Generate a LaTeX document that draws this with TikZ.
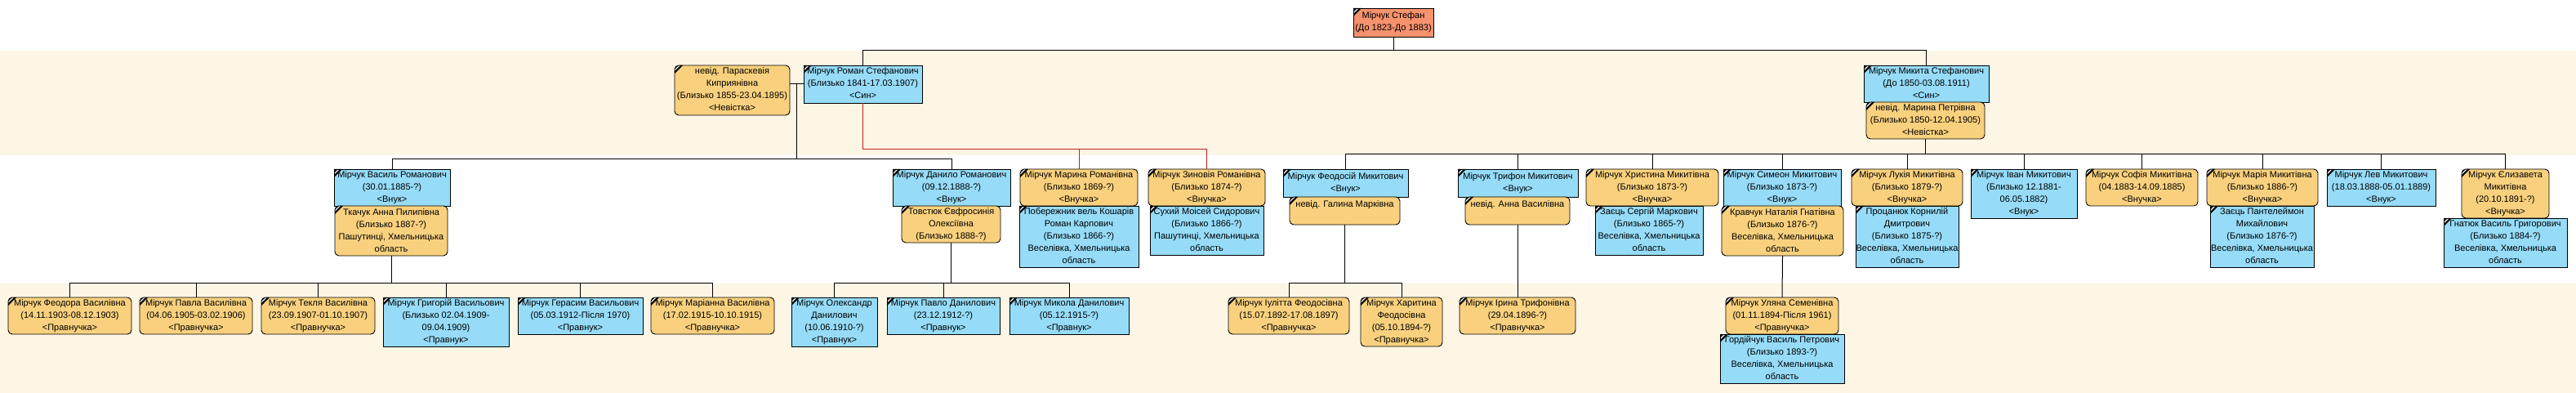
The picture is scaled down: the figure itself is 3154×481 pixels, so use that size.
\documentclass[tikz,border=0pt]{standalone}
\usepackage{fontspec}
\setmainfont{Liberation Sans}
\usetikzlibrary{calc}
\definecolor{pblue}{RGB}{150,220,248}
\definecolor{porange}{RGB}{249,209,126}
\definecolor{psalmon}{RGB}{246,146,110}
\definecolor{bandc}{RGB}{253,246,229}
\definecolor{redl}{RGB}{192,32,32}
\tikzset{
  rectshape/.style={rounded corners=0pt},
  roundshape/.style={rounded corners=5pt},
  conn/.style={line width=1pt, black},
  redconn/.style={line width=1pt, redl},
  ptext/.style={inner sep=0pt, align=center, font=\fontsize{11}{15}\selectfont, text=black},
}
\newcommand\NL{\\\strut}
\newcommand\person[8]{%
  \fill[#2,#3] (#4,#5) rectangle (#6,#7);
  \node[ptext, minimum width={(#6-#4)*1pt}, minimum height={(#7-#5)*1pt}] (#1) at ({(#4+#6)/2},{(#5+#7)/2}) {\strut #8};
  \begin{scope}
    \clip[#3] (#4,#5) rectangle (#6,#7);
    \fill[black] (#4,#5) -- ++(10,0) -- ++(-10,10) -- cycle;
    \draw[white, line width=1.2pt] ($(#4,#5)+(0,6)$) -- ++(6,-6);
  \end{scope}
  \draw[line width=0.9pt, black, #3] (#4,#5) rectangle (#6,#7);
}
\begin{document}
\begin{tikzpicture}[x=1pt,y=-1pt]
\useasboundingbox (0,0) rectangle (3154,481);
\fill[bandc] (0,62) rectangle (3154,190);
\fill[bandc] (0,347) rectangle (3154,481);
\coordinate (y62) at (0,62);
\coordinate (y183) at (0,183);
\coordinate (y189) at (0,189);
\coordinate (y195) at (0,195);
\coordinate (y346) at (0,346);

% row 0 and 1
\person{stefan}{psalmon}{rectshape}{1657}{10}{1755}{45}{Мірчук Стефан\NL(До 1823-До 1883)}
\person{paraskeva}{porange}{roundshape}{826}{80}{967}{141}{невід. Параскевія\NL Киприянівна\NL(Близько 1855-23.04.1895)\NL<Невістка>}
\person{roman}{pblue}{rectshape}{984}{80}{1129}{126}{Мірчук Роман Стефанович\NL(Близько 1841-17.03.1907)\NL<Син>}
\person{mykyta}{pblue}{rectshape}{2282}{80}{2435}{125}{Мірчук Микита Стефанович\NL(До 1850-03.08.1911)\NL<Син>}
\person{marynap}{porange}{roundshape}{2285}{125}{2430}{170}{невід. Марина Петрівна\NL(Близько 1850-12.04.1905)\NL<Невістка>}

% row 2
\person{vasyl}{pblue}{rectshape}{409}{207}{551}{252}{Мірчук Василь Романович\NL(30.01.1885-?)\NL<Внук>}
\person{annat}{porange}{roundshape}{410}{252}{548}{313}{Ткачук Анна Пилипівна\NL(Близько 1887-?)\NL Пашутинці, Хмельницька\NL область}
\person{danylo}{pblue}{rectshape}{1093}{207}{1237}{252}{Мірчук Данило Романович\NL(09.12.1888-?)\NL<Внук>}
\person{tovstiuk}{porange}{roundshape}{1104}{252}{1225}{297}{Товстюк Євфросинія\NL Олексіївна\NL(Близько 1888-?)}
\person{marynar}{porange}{roundshape}{1249}{207}{1393}{252}{Мірчук Марина Романівна\NL(Близько 1869-?)\NL<Внучка>}
\person{poberezhnyk}{pblue}{rectshape}{1248}{252}{1394}{327}{Побережник вель Кошарів\NL Роман Карпович\NL(Близько 1866-?)\NL Веселівка, Хмельницька\NL область}
\person{zinoviya}{porange}{roundshape}{1406}{207}{1549}{252}{Мірчук Зиновія Романівна\NL(Близько 1874-?)\NL<Внучка>}
\person{sukhyi}{pblue}{rectshape}{1408}{252}{1547}{312}{Сухий Моісей Сидорович\NL(Близько 1866-?)\NL Пашутинці, Хмельницька\NL область}
\person{feodosiy}{pblue}{rectshape}{1571}{207}{1724}{241}{Мірчук Феодосій Микитович\NL<Внук>}
\person{halyna}{porange}{roundshape}{1579}{241}{1714}{275}{невід. Галина Марківна\NL\mbox{}}
\person{tryfon}{pblue}{rectshape}{1785}{207}{1932}{241}{Мірчук Трифон Микитович\NL<Внук>}
\person{annav}{porange}{roundshape}{1794}{241}{1922}{275}{невід. Анна Василівна\NL\mbox{}}
\person{khrystyna}{porange}{roundshape}{1942}{207}{2104}{252}{Мірчук Христина Микитівна\NL(Близько 1873-?)\NL<Внучка>}
\person{zayetss}{pblue}{rectshape}{1953}{252}{2085}{312}{Заєць Сергій Маркович\NL(Близько 1865-?)\NL Веселівка, Хмельницька\NL область}
\person{symeon}{pblue}{rectshape}{2110}{207}{2254}{252}{Мірчук Симеон Микитович\NL(Близько 1873-?)\NL<Внук>}
\person{kravchuk}{porange}{roundshape}{2108}{252}{2257}{313}{Кравчук Наталія Гнатівна\NL(Близько 1876-?)\NL Веселівка, Хмельницька\NL область}
\person{lukiya}{porange}{roundshape}{2267}{207}{2403}{252}{Мірчук Лукія Микитівна\NL(Близько 1879-?)\NL<Внучка>}
\person{protsaniuk}{pblue}{rectshape}{2272}{252}{2398}{327}{Процанюк Корнилій\NL Дмитрович\NL(Близько 1875-?)\NL Веселівка, Хмельницька\NL область}
\person{ivan}{pblue}{rectshape}{2413}{207}{2543}{267}{Мірчук Іван Микитович\NL(Близько 12.1881-\NL 06.05.1882)\NL<Внук>}
\person{sofia}{porange}{roundshape}{2554}{207}{2691}{252}{Мірчук Софія Микитівна\NL(04.1883-14.09.1885)\NL<Внучка>}
\person{mariya}{porange}{roundshape}{2702}{207}{2838}{252}{Мірчук Марія Микитівна\NL(Близько 1886-?)\NL<Внучка>}
\person{panteleimon}{pblue}{rectshape}{2706}{252}{2833}{327}{Заєць Пантелеймон\NL Михайлович\NL(Близько 1876-?)\NL Веселівка, Хмельницька\NL область}
\person{lev}{pblue}{rectshape}{2849}{207}{2982}{252}{Мірчук Лев Микитович\NL(18.03.1888-05.01.1889)\NL<Внук>}
\person{yelyzaveta}{porange}{roundshape}{3014}{207}{3121}{267}{Мірчук Єлизавета\NL Микитівна\NL(20.10.1891-?)\NL<Внучка>}
\person{hnatiuk}{pblue}{rectshape}{2992}{267}{3143}{327}{Гнатюк Василь Григорович\NL(Близько 1884-?)\NL Веселівка, Хмельницька\NL область}

% row 3
\person{feodora}{porange}{roundshape}{10}{364}{161}{409}{Мірчук Феодора Василівна\NL(14.11.1903-08.12.1903)\NL<Правнучка>}
\person{pavla}{porange}{roundshape}{171}{364}{309}{409}{Мірчук Павла Василівна\NL(04.06.1905-03.02.1906)\NL<Правнучка>}
\person{teklia}{porange}{roundshape}{320}{364}{459}{409}{Мірчук Текля Василівна\NL(23.09.1907-01.10.1907)\NL<Правнучка>}
\person{hryhoriy}{pblue}{rectshape}{469}{364}{623}{424}{Мірчук Григорій Васильович\NL(Близько 02.04.1909-\NL 09.04.1909)\NL<Правнук>}
\person{herasym}{pblue}{rectshape}{634}{364}{787}{409}{Мірчук Герасим Васильович\NL(05.03.1912-Після 1970)\NL<Правнук>}
\person{marianna}{porange}{roundshape}{797}{364}{948}{409}{Мірчук Маріанна Василівна\NL(17.02.1915-10.10.1915)\NL<Правнучка>}
\person{oleksandr}{pblue}{rectshape}{969}{364}{1074}{424}{Мірчук Олександр\NL Данилович\NL(10.06.1910-?)\NL<Правнук>}
\person{pavlo}{pblue}{rectshape}{1086}{364}{1224}{409}{Мірчук Павло Данилович\NL(23.12.1912-?)\NL<Правнук>}
\person{mykola}{pblue}{rectshape}{1236}{364}{1382}{409}{Мірчук Микола Данилович\NL(05.12.1915-?)\NL<Правнук>}
\person{yulitta}{porange}{roundshape}{1504}{364}{1652}{409}{Мірчук Іулітта Феодосівна\NL(15.07.1892-17.08.1897)\NL<Правнучка>}
\person{kharytyna}{porange}{roundshape}{1666}{364}{1766}{424}{Мірчук Харитина\NL Феодосівна\NL(05.10.1894-?)\NL<Правнучка>}
\person{iryna}{porange}{roundshape}{1787}{364}{1929}{409}{Мірчук Ірина Трифонівна\NL(29.04.1896-?)\NL<Правнучка>}
\person{uliana}{porange}{roundshape}{2113}{364}{2251}{409}{Мірчук Уляна Семенівна\NL(01.11.1894-Після 1961)\NL<Правнучка>}
\person{hordiychuk}{pblue}{rectshape}{2106}{409}{2258}{469}{Гордійчук Василь Петрович\NL(Близько 1893-?)\NL Веселівка, Хмельницька\NL область}

% connectors
\begin{scope}[on background layer/.style={}]
\draw[conn] (stefan.south) -- (stefan.south |- y62);
\draw[conn] (roman.north) -- (roman.north |- y62) -- (mykyta.north |- y62) -- (mykyta.north);
\draw[conn] (roman.west) -- (roman.west -| paraskeva.east);
\coordinate (pr) at ($(roman.west)!0.5!(roman.west -| paraskeva.east)$);
\draw[conn] (pr) -- (pr |- y195);
\draw[conn] (vasyl.north) -- (vasyl.north |- y195) -- (danylo.north |- y195) -- (danylo.north);
\draw[redconn] (roman.south) -- (roman.south |- y183) -- (zinoviya.north |- y183) -- (zinoviya.north);
\draw[redconn] (marynar.north) -- (marynar.north |- y183);
\draw[conn] (marynap.south) -- (marynap.south |- y189);
\draw[conn] (feodosiy.north) -- (feodosiy.north |- y189) -- (yelyzaveta.north |- y189) -- (yelyzaveta.north);
\foreach \n in {tryfon,khrystyna,symeon,lukiya,ivan,sofia,mariya,lev}
  \draw[conn] (\n.north) -- (\n.north |- y189);
\draw[conn] (annat.south) -- (annat.south |- y346);
\draw[conn] (feodora.north) -- (feodora.north |- y346) -- (marianna.north |- y346) -- (marianna.north);
\foreach \n in {pavla,teklia,hryhoriy,herasym}
  \draw[conn] (\n.north) -- (\n.north |- y346);
\draw[conn] (tovstiuk.south) -- (tovstiuk.south |- y346);
\draw[conn] (oleksandr.north) -- (oleksandr.north |- y346) -- (mykola.north |- y346) -- (mykola.north);
\draw[conn] (pavlo.north) -- (pavlo.north |- y346);
\draw[conn] (halyna.south) -- (halyna.south |- y346);
\draw[conn] (yulitta.north) -- (yulitta.north |- y346) -- (kharytyna.north |- y346) -- (kharytyna.north);
\draw[conn] (annav.south) -- (iryna.north);
\draw[conn] (kravchuk.south) -- (uliana.north);
\end{scope}
\end{tikzpicture}
\end{document}
